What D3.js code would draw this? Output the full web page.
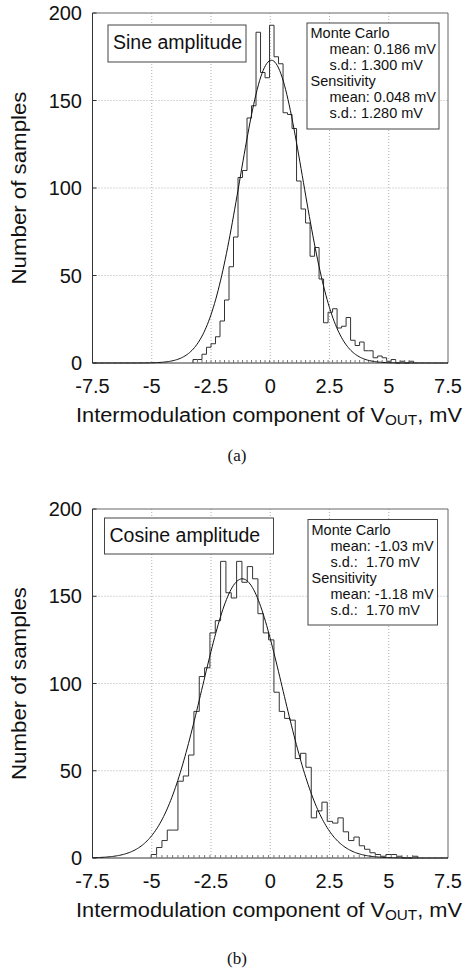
<!DOCTYPE html>
<html><head><meta charset="utf-8">
<script src="https://cdn.jsdelivr.net/npm/d3@7"></script>
<style>
body{margin:0;background:#fff}
svg{display:block}
text{font-family:"Liberation Sans",Arial,Helvetica,sans-serif;fill:#111}
</style>
</head><body><svg id="c" width="473" height="971"></svg>
<script>
// ---------- data ----------
const xTicks = [-7.5, -5, -2.5, 0, 2.5, 5, 7.5];
const xTickLabels = ["-7.5", "-5", "-2.5", "0", "2.5", "5", "7.5"];
const yTicks = [0, 50, 100, 150, 200];
const gridX = [-5, -2.5, 0, 2.5, 5];
const gridY = [50, 100, 150];
const panelTitles = ["Sine amplitude", "Cosine amplitude"];
const panelTags = ["(a)", "(b)"];
const legendA = ["Monte Carlo", "mean: 0.186 mV", "s.d.: 1.300 mV", "Sensitivity", "mean: 0.048 mV", "s.d.: 1.280 mV"];
const legendB = ["Monte Carlo", "mean: -1.03 mV", "s.d.:  1.70 mV", "Sensitivity", "mean: -1.18 mV", "s.d.:  1.70 mV"];
const legendIndent = [0, 1, 1, 0, 1, 1];

const sineBin = [-3.26, 0.19]; // first edge, width (mV)
const sineCounts = [2,2,5,9,11,15,24,36,55,72,106,110,140,147,189,166,163,193,175,171,143,142,134,104,88,80,61,66,48,23,29,31,20,21,26,13,10,12,7,7,3,4,3,1,2,0,1,0,1];
const cosineBin = [-5.02, 0.225];
const cosineCounts = [2,6,10,16,16,44,47,59,84,104,109,129,136,170,152,149,170,158,167,160,140,129,125,95,84,80,79,57,60,52,23,27,32,21,20,23,15,10,12,7,5,3,2,1,2,2,1,0,0,1];

// fitted normal curves: mean, s.d., peak height (samples)
const sineFit = [0.048, 1.33, 173];
const cosineFit = [-1.18, 1.70, 160];

// ---------- drawing ----------
const svg = d3.select("#c");
const X0 = 92.5, X1 = 448;

const panels = [
  {top: 13, bottom: 363, bin: sineBin, counts: sineCounts, fit: sineFit, title: panelTitles[0], tag: panelTags[0], legend: legendA,
   titleBox: [108, 25, 138, 37], legBox: [307, 23, 132, 106], tagY: 461},
  {top: 509, bottom: 858, bin: cosineBin, counts: cosineCounts, fit: cosineFit, title: panelTitles[1], tag: panelTags[1], legend: legendB,
   titleBox: [104.5, 518, 169, 36], legBox: [308, 519.5, 129.5, 105.5], tagY: 964}
];

panels.forEach(p => {
  const x = d3.scaleLinear().domain([-7.5, 7.5]).range([X0, X1]);
  const y = d3.scaleLinear().domain([0, 200]).range([p.bottom, p.top]);
  const g = svg.append("g");

  // grid
  g.selectAll(".gx").data(gridX).enter().append("line")
    .attr("x1", d => x(d)).attr("x2", d => x(d)).attr("y1", p.top).attr("y2", p.bottom)
    .attr("stroke", "#b0b0b0").attr("stroke-width", 1).attr("stroke-dasharray", "1,2");
  g.selectAll(".gy").data(gridY).enter().append("line")
    .attr("x1", X0).attr("x2", X1).attr("y1", d => y(d)).attr("y2", d => y(d))
    .attr("stroke", "#b0b0b0").attr("stroke-width", 1).attr("stroke-dasharray", "1,2");

  // frame
  g.append("line").attr("x1", X0).attr("x2", X1).attr("y1", p.top).attr("y2", p.top).attr("stroke", "#666").attr("stroke-width", 1);
  g.append("line").attr("x1", X1).attr("x2", X1).attr("y1", p.top).attr("y2", p.bottom).attr("stroke", "#666").attr("stroke-width", 1);
  g.append("line").attr("x1", X0).attr("x2", X0).attr("y1", p.top).attr("y2", p.bottom).attr("stroke", "#333").attr("stroke-width", 1);
  g.append("line").attr("x1", X0).attr("x2", X1).attr("y1", p.bottom).attr("y2", p.bottom).attr("stroke", "#333").attr("stroke-width", 1);

  // histogram (step outline)
  const [e0, w] = p.bin;
  const pts = [[e0, 0]];
  p.counts.forEach((c, i) => { pts.push([e0 + i * w, c]); pts.push([e0 + (i + 1) * w, c]); });
  pts.push([e0 + p.counts.length * w, 0]);
  g.append("path").attr("d", d3.line().x(d => x(d[0])).y(d => y(d[1]))(pts))
    .attr("fill", "none").attr("stroke", "#333").attr("stroke-width", 1);
  // small bin-edge ticks at baseline
  g.selectAll(".be").data(p.counts.map((c, i) => e0 + i * w)).enter().append("line")
    .attr("x1", d => x(d)).attr("x2", d => x(d)).attr("y1", p.bottom).attr("y2", p.bottom - 3)
    .attr("stroke", "#777").attr("stroke-width", 1);

  // fitted curve
  const [m, s, pk] = p.fit;
  const cv = d3.range(-7.5, 7.5001, 0.05).map(v => [v, pk * Math.exp(-((v - m) ** 2) / (2 * s * s))]);
  g.append("path").attr("d", d3.line().x(d => x(d[0])).y(d => y(d[1]))(cv))
    .attr("fill", "none").attr("stroke", "#111").attr("stroke-width", 1);

  // y ticks & labels
  g.selectAll(".yt").data(yTicks).enter().append("line")
    .attr("x1", X0).attr("x2", X0 + 4).attr("y1", d => y(d)).attr("y2", d => y(d)).attr("stroke", "#333");
  g.selectAll(".yl").data(yTicks).enter().append("text")
    .attr("x", 82).attr("y", d => y(d) + 7).attr("text-anchor", "end")
    .attr("font-size", 20).text(d => d);

  // x tick labels
  g.selectAll(".xl").data(xTicks).enter().append("text")
    .attr("x", d => x(d)).attr("y", p.bottom + 30).attr("text-anchor", "middle")
    .attr("font-size", 20).text((d, i) => xTickLabels[i]);

  // x axis title
  const xt = g.append("text").attr("x", 269).attr("y", p.bottom + 59).attr("text-anchor", "middle")
    .attr("font-size", 20).attr("textLength", 386).attr("lengthAdjust", "spacingAndGlyphs");
  xt.append("tspan").text("Intermodulation component of V");
  xt.append("tspan").attr("font-size", 14).attr("dy", 3).text("OUT");
  xt.append("tspan").attr("dy", -3).text(", mV");

  // y axis title
  const ym = (p.top + p.bottom) / 2;
  g.append("text").attr("transform", `translate(26,${ym}) rotate(-90)`).attr("text-anchor", "middle")
    .attr("font-size", 20).attr("textLength", 193).attr("lengthAdjust", "spacingAndGlyphs")
    .text("Number of samples");

  // title box
  const tb = p.titleBox;
  g.append("rect").attr("x", tb[0]).attr("y", tb[1]).attr("width", tb[2]).attr("height", tb[3])
    .attr("fill", "#fff").attr("stroke", "#444").attr("stroke-width", 1);
  g.append("text").attr("x", tb[0] + 5).attr("y", tb[1] + 23.5).attr("font-size", 19.5).text(p.title);

  // legend box
  const lb = p.legBox;
  g.append("rect").attr("x", lb[0]).attr("y", lb[1]).attr("width", lb[2]).attr("height", lb[3])
    .attr("fill", "#fff").attr("stroke", "#444").attr("stroke-width", 1);
  g.selectAll(".lg").data(p.legend).enter().append("text")
    .attr("x", (d, i) => lb[0] + 3.5 + legendIndent[i] * 19)
    .attr("y", (d, i) => lb[1] + 15 + i * 16)
    .attr("font-size", 14.5).style("white-space", "pre").text(d => d);

  // panel tag
  svg.append("text").attr("x", 237).attr("y", p.tagY).attr("text-anchor", "middle")
    .attr("font-size", 17).style("font-family", "'Liberation Serif','Times New Roman',serif").text(p.tag);
});
</script>
</body></html>
